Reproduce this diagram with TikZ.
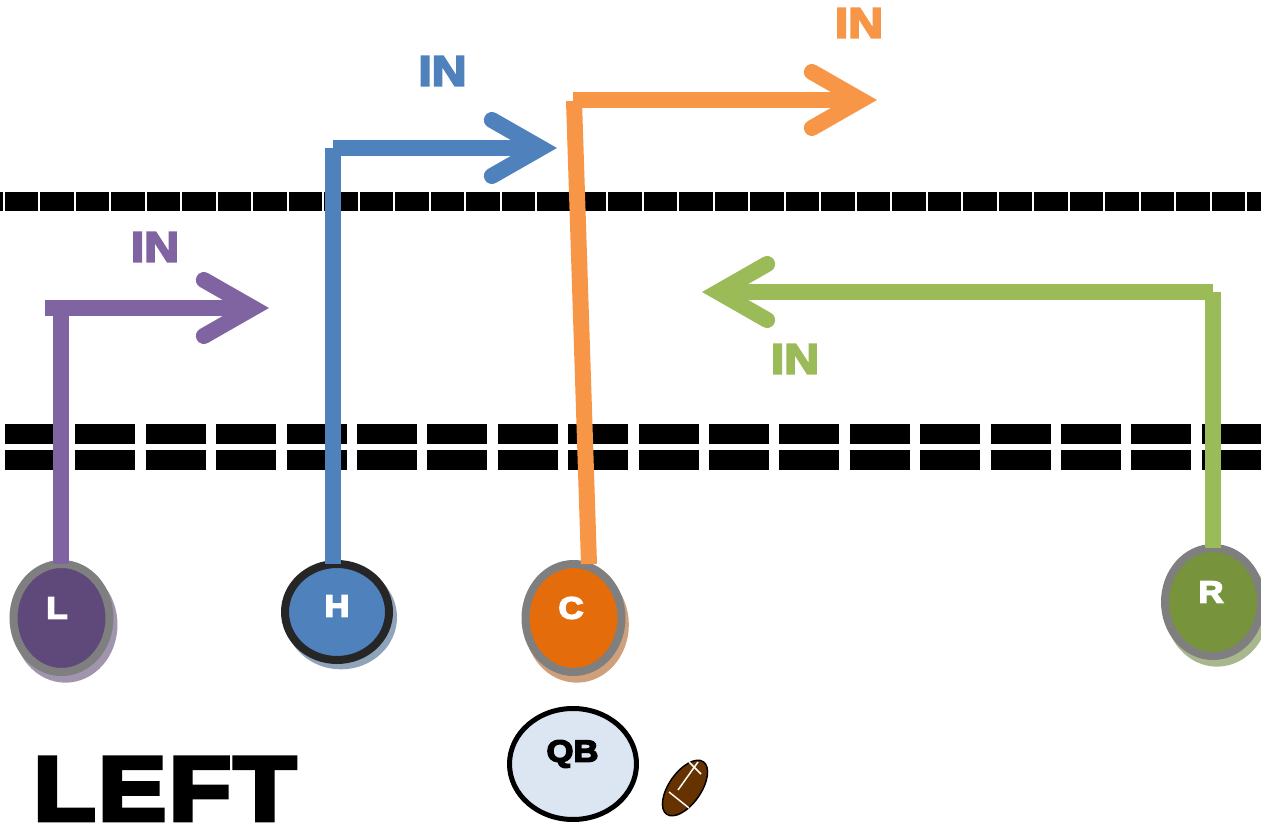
\documentclass[tikz,border=0pt]{standalone}
\usepackage{fontspec}
\usepackage{amsmath}
\usetikzlibrary{arrows.meta}
\usetikzlibrary{shapes.geometric,shadows}
\newfontfamily\heavyfont[BoldFeatures={FakeBold=5,FakeStretch=1.13}]{Liberation Sans}
\definecolor{routepurple}{HTML}{8064A2}
\definecolor{routeblue}{HTML}{4F81BD}
\definecolor{routeorange}{HTML}{F79646}
\definecolor{routegreen}{HTML}{9BBB59}
\definecolor{rim}{HTML}{7F7F7F}
\definecolor{rimdark}{HTML}{262626}
\definecolor{fillpurple}{HTML}{5F497A}
\definecolor{fillorange}{HTML}{E46C0A}
\definecolor{fillgreen}{HTML}{77933C}
\definecolor{fillqb}{HTML}{DCE6F2}
\definecolor{shadowpurple}{HTML}{A095AC}
\definecolor{shadowblue}{HTML}{8FA3BA}
\definecolor{shadoworange}{HTML}{CFA07C}
\definecolor{shadowgreen}{HTML}{A9B78F}
\definecolor{leather}{HTML}{663300}
\tikzset{
    route/.style={line width=12pt,color=#1},
    routetip/.style={route=#1,-{Straight Barb[length=36.75pt,width=42pt,line cap=round]}},
    player/.style n args={4}{ellipse,inner sep=0pt,outer sep=0pt,line width=6pt,
        minimum width=#1*0.75pt,minimum height=#2*0.75pt,draw=#3,fill=#4},
    playershadow/.style n args={3}{general shadow={fill=#1,draw=#1,line width=6pt,shadow xshift=#2pt,shadow yshift=-#3pt}},
    playertext/.style={text=white,font=\heavyfont\bfseries\fontsize{23}{24}\selectfont,inner sep=0pt},
    routetext/.style={text=#1,font=\heavyfont\bfseries\fontsize{32}{33}\selectfont,inner sep=0pt},
    scrimmage/.style={black,line width=14.25pt,dash pattern=on 25.125pt off 1.5pt,dash phase=23.1pt},
    hash/.style={black,line width=15pt,dash pattern=on 45pt off 7.8pt}
}
\begin{document}
\begin{tikzpicture}[x=0.75pt,y=-0.75pt]
            \useasboundingbox (0,0) rectangle (1261,823);
            \coordinate (s1) at (0,201.5);
            \coordinate (s2) at (1261,201.5);
            \coordinate (d1) at (5,434);
            \coordinate (d2) at (1261,434);
            \coordinate (e1) at (5,460);
            \coordinate (e2) at (1261,460);
            \draw[scrimmage] (s1) -- (s2);
            \draw[hash] (d1) -- (d2);
            \draw[hash] (e1) -- (e2);

            \node[player={96}{108}{rim}{fillpurple},playershadow={shadowpurple}{3}{5}] (l) at (61.5,618){};
            \node[player={104}{96}{rimdark}{routeblue},playershadow={shadowblue}{3}{4}] (h) at (337,612){};
            \node[player={96}{108}{rim}{fillorange},playershadow={shadoworange}{2.5}{5}] (c) at (573.5,618){};
            \node[player={96}{108}{rim}{fillgreen},playershadow={shadowgreen}{3}{5}] (r) at (1213,602){};
            \node[ellipse,inner sep=0pt,outer sep=0pt,line width=3.75pt,draw=black,fill=fillqb,
                minimum width=95.25pt,minimum height=83.25pt] (qb) at (573,764){};
            \node[ellipse,inner sep=0pt,outer sep=0pt,line width=1.1pt,draw=black,fill=leather,
                rotate=55,minimum width=48pt,minimum height=24pt] (ball) at (685,788){};
            \draw[white,line width=1.1pt] (678,790) -- (698,762);
            \draw[white,line width=1.1pt] (689,762) -- (701,774);
            \draw[white,line width=1.1pt] (669,792) -- (689,808);

            \coordinate (lturn) at (60.5,308);
            \coordinate (lstart) at (45,308);
            \coordinate (ltip) at (269,308);
            \draw[route=routepurple] (l.north -| lturn) -- (lturn);
            \draw[routetip=routepurple] (lstart) -- (ltip);

            \coordinate (hturn) at (333,148);
            \coordinate (htip) at (557,148);
            \draw[route=routeblue] (h.north -| hturn) -- (hturn);
            \draw[routetip=routeblue] (hturn) -- (htip);

            \coordinate (cfoot) at (589,564);
            \coordinate (cturn) at (574,101);
            \coordinate (cstart) at (573,100);
            \coordinate (ctip) at (877,100);
            \draw[route=routeorange] (cfoot) -- (cturn);
            \draw[routetip=routeorange] (cstart) -- (ctip);

            \coordinate (rturn) at (1213,292);
            \coordinate (rtip) at (702,292);
            \draw[route=routegreen] (r.north) -- (rturn);
            \draw[routetip=routegreen] (rturn) -- (rtip);

            \node[routetext=routepurple] (ltext) at (155,247){IN};
            \node[routetext=routeblue] (htext) at (442.5,71){IN};
            \node[routetext=routeorange] (ctext) at (859,23){IN};
            \node[routetext=routegreen] (rtext) at (795,359){IN};
            \node[playertext] (lname) at (57,608){L};
            \node[playertext] (hname) at (337,606){H};
            \node[playertext] (cname) at (571,608){C};
            \node[playertext] (rname) at (1211,592){R};
            \node[playertext,text=black] (qbname) at (572.5,754){QB};
            \node[anchor=base west,inner sep=0pt,font=\heavyfont\bfseries\fontsize{68}{72}\selectfont\addfontfeature{LetterSpace=2.5}] (side) at (33,820){LEFT};
        \end{tikzpicture}
\end{document}
